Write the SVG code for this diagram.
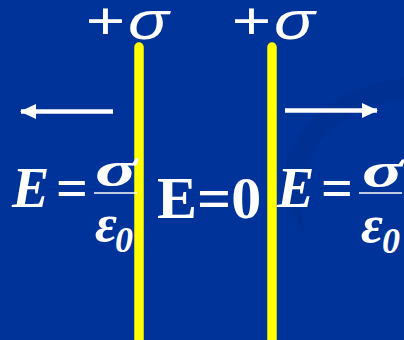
<svg xmlns="http://www.w3.org/2000/svg" width="404" height="340" viewBox="0 0 404 340">
<defs>
<style>
.bg{fill:#003399}
.swoosh{fill:#002c88;opacity:0.45}
.plate{stroke:#ffff00;stroke-width:9.5;stroke-linecap:round;fill:none}
.arrow{stroke:#ffffff;stroke-width:4.5;fill:none}
.sig{font-family:"Liberation Sans",Arial,sans-serif;font-size:52px;fill:#ffffff}
.f{font-family:"Liberation Serif","Times New Roman",serif;font-weight:bold;fill:#ffffff}
.fi{font-style:italic}
.frac{stroke:#ffffff;stroke-width:1.5}
</style>
<marker id="ah" markerUnits="userSpaceOnUse" markerWidth="17" markerHeight="16" viewBox="0 0 17 16" refX="15" refY="8" orient="auto">
<path d="M0,0.5 L16,8 L0,15.5 Z" fill="#ffffff"/>
</marker>
</defs>
<rect class="bg" x="0" y="0" width="404" height="340"/>
<path class="swoosh" d="M404,78 C345,84 295,120 284,170 C282,195 292,220 305,236 C298,200 300,160 330,130 C352,110 380,100 404,100 Z"/>
<g id="connectors">
<line class="arrow" x1="113" y1="111.5" x2="21" y2="111.5" marker-end="url(#ah)"/>
<line class="arrow" x1="285" y1="110.5" x2="377" y2="110.5" marker-end="url(#ah)"/>
</g>
<g id="plate-left"><line class="plate" x1="139" y1="47" x2="139" y2="346"/></g>
<g id="plate-right"><line class="plate" x1="272" y1="47" x2="272" y2="346"/></g>
<g id="label-left" transform="translate(89,39) scale(1.3,1)"><text class="sig" x="-2.6" y="0">+<tspan class="fi" x="30" y="0">σ</tspan></text></g>
<g id="label-right" transform="translate(235,39) scale(1.3,1)"><text class="sig" x="-2.6" y="0">+<tspan class="fi" x="30" y="0">σ</tspan></text></g>
<g id="field-left">
<text class="f fi" x="12" y="207" font-size="56">E</text>
<text class="f" x="56" y="207" font-size="56">=</text>
<text class="f fi" x="95" y="186" font-size="50" textLength="42" lengthAdjust="spacingAndGlyphs">σ</text>
<line class="frac" x1="94" y1="193" x2="137" y2="193"/>
<text class="f fi" x="95" y="241" font-size="52" textLength="22" lengthAdjust="spacingAndGlyphs">ε</text>
<text class="f fi" x="115" y="252" font-size="36">0</text>
</g>
<g id="field-middle">
<text class="f" x="157" y="218" font-size="60">E=0</text>
</g>
<g id="field-right">
<text class="f fi" x="277" y="207" font-size="56">E</text>
<text class="f" x="321" y="207" font-size="56">=</text>
<text class="f fi" x="362" y="187" font-size="50" textLength="41" lengthAdjust="spacingAndGlyphs">σ</text>
<line class="frac" x1="359" y1="193" x2="402" y2="193"/>
<text class="f fi" x="361" y="242" font-size="52" textLength="22" lengthAdjust="spacingAndGlyphs">ε</text>
<text class="f fi" x="382" y="253" font-size="36">0</text>
</g>
</svg>
